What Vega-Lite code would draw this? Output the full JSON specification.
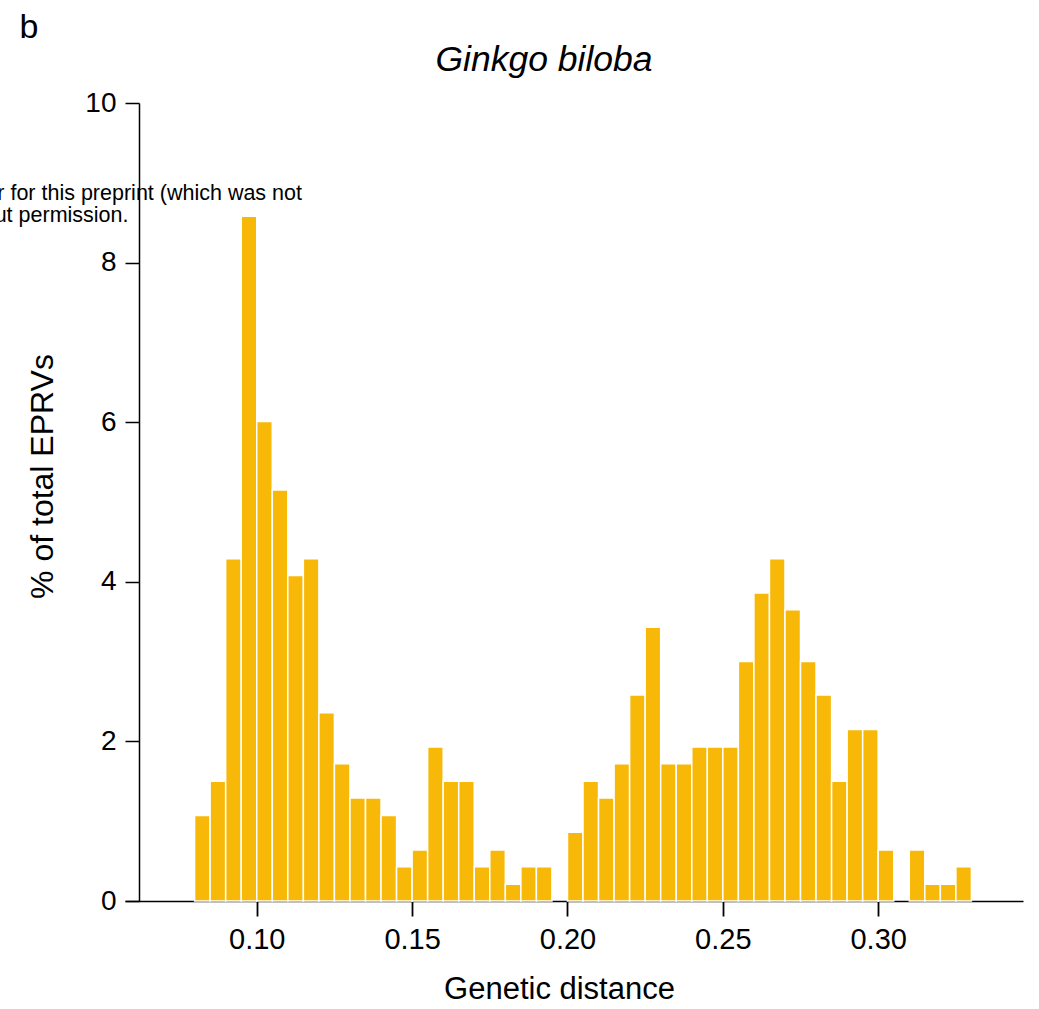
{
  "$schema": "https://vega.github.io/schema/vega-lite/v6.json",
  "width": 898,
  "height": 798,
  "autosize": {"type": "none"},
  "padding": {"left": 125, "top": 103, "right": 16, "bottom": 108},
  "background": "white",
  "config": {"view": {"stroke": null}, "font": "Liberation Sans"},
  "title": {
    "text": "Ginkgo biloba",
    "font": "Liberation Sans",
    "fontStyle": "italic",
    "fontWeight": "normal",
    "fontSize": 35.5,
    "color": "#000",
    "anchor": "middle",
    "frame": "group",
    "baseline": "alphabetic",
    "dx": -30,
    "offset": -95
  },
  "data": {
    "values": [
      {"bin_start": 0.080, "bin_end": 0.085, "percent": 1.07},
      {"bin_start": 0.085, "bin_end": 0.090, "percent": 1.50},
      {"bin_start": 0.090, "bin_end": 0.095, "percent": 4.29},
      {"bin_start": 0.095, "bin_end": 0.100, "percent": 8.58},
      {"bin_start": 0.100, "bin_end": 0.105, "percent": 6.01},
      {"bin_start": 0.105, "bin_end": 0.110, "percent": 5.15},
      {"bin_start": 0.110, "bin_end": 0.115, "percent": 4.08},
      {"bin_start": 0.115, "bin_end": 0.120, "percent": 4.29},
      {"bin_start": 0.120, "bin_end": 0.125, "percent": 2.36},
      {"bin_start": 0.125, "bin_end": 0.130, "percent": 1.72},
      {"bin_start": 0.130, "bin_end": 0.135, "percent": 1.29},
      {"bin_start": 0.135, "bin_end": 0.140, "percent": 1.29},
      {"bin_start": 0.140, "bin_end": 0.145, "percent": 1.07},
      {"bin_start": 0.145, "bin_end": 0.150, "percent": 0.43},
      {"bin_start": 0.150, "bin_end": 0.155, "percent": 0.64},
      {"bin_start": 0.155, "bin_end": 0.160, "percent": 1.93},
      {"bin_start": 0.160, "bin_end": 0.165, "percent": 1.50},
      {"bin_start": 0.165, "bin_end": 0.170, "percent": 1.50},
      {"bin_start": 0.170, "bin_end": 0.175, "percent": 0.43},
      {"bin_start": 0.175, "bin_end": 0.180, "percent": 0.64},
      {"bin_start": 0.180, "bin_end": 0.185, "percent": 0.21},
      {"bin_start": 0.185, "bin_end": 0.190, "percent": 0.43},
      {"bin_start": 0.190, "bin_end": 0.195, "percent": 0.43},
      {"bin_start": 0.200, "bin_end": 0.205, "percent": 0.86},
      {"bin_start": 0.205, "bin_end": 0.210, "percent": 1.50},
      {"bin_start": 0.210, "bin_end": 0.215, "percent": 1.29},
      {"bin_start": 0.215, "bin_end": 0.220, "percent": 1.72},
      {"bin_start": 0.220, "bin_end": 0.225, "percent": 2.58},
      {"bin_start": 0.225, "bin_end": 0.230, "percent": 3.43},
      {"bin_start": 0.230, "bin_end": 0.235, "percent": 1.72},
      {"bin_start": 0.235, "bin_end": 0.240, "percent": 1.72},
      {"bin_start": 0.240, "bin_end": 0.245, "percent": 1.93},
      {"bin_start": 0.245, "bin_end": 0.250, "percent": 1.93},
      {"bin_start": 0.250, "bin_end": 0.255, "percent": 1.93},
      {"bin_start": 0.255, "bin_end": 0.260, "percent": 3.00},
      {"bin_start": 0.260, "bin_end": 0.265, "percent": 3.86},
      {"bin_start": 0.265, "bin_end": 0.270, "percent": 4.29},
      {"bin_start": 0.270, "bin_end": 0.275, "percent": 3.65},
      {"bin_start": 0.275, "bin_end": 0.280, "percent": 3.00},
      {"bin_start": 0.280, "bin_end": 0.285, "percent": 2.58},
      {"bin_start": 0.285, "bin_end": 0.290, "percent": 1.50},
      {"bin_start": 0.290, "bin_end": 0.295, "percent": 2.15},
      {"bin_start": 0.295, "bin_end": 0.300, "percent": 2.15},
      {"bin_start": 0.300, "bin_end": 0.305, "percent": 0.64},
      {"bin_start": 0.310, "bin_end": 0.315, "percent": 0.64},
      {"bin_start": 0.315, "bin_end": 0.320, "percent": 0.21},
      {"bin_start": 0.320, "bin_end": 0.325, "percent": 0.21},
      {"bin_start": 0.325, "bin_end": 0.330, "percent": 0.43}
    ]
  },
  "layer": [
    {
      "mark": {"type": "bar", "fill": "#F8B808", "stroke": "white", "strokeWidth": 1.5},
      "encoding": {
        "x": {
          "field": "bin_start",
          "type": "quantitative",
          "scale": {"domain": [0.0576, 0.3466], "nice": false, "zero": false},
          "axis": {
            "title": "Genetic distance",
            "values": [0.1, 0.15, 0.2, 0.25, 0.3],
            "format": ".2f",
            "grid": false,
            "labelFont": "Liberation Sans",
            "labelFontSize": 29,
            "labelColor": "#000",
            "labelPadding": 9,
            "tickSize": 15,
            "tickWidth": 1.8,
            "tickColor": "#000",
            "domainColor": "#000",
            "domainWidth": 1.5,
            "titleFont": "Liberation Sans",
            "titleFontSize": 31,
            "titleFontWeight": "normal",
            "titleColor": "#000",
            "titleBaseline": "alphabetic",
            "titleAnchor": "middle",
            "titleX": 434,
            "titleY": 97
          }
        },
        "x2": {"field": "bin_end"},
        "y": {
          "field": "percent",
          "type": "quantitative",
          "scale": {"domain": [0, 10], "nice": false},
          "axis": {
            "title": "% of total EPRVs",
            "values": [0, 2, 4, 6, 8, 10],
            "format": "d",
            "grid": false,
            "offset": -14,
            "labelFont": "Liberation Sans",
            "labelFontSize": 28,
            "labelColor": "#000",
            "labelPadding": 9,
            "tickSize": 14,
            "tickWidth": 1.5,
            "tickColor": "#000",
            "domainColor": "#000",
            "domainWidth": 1.5,
            "titleFont": "Liberation Sans",
            "titleFontSize": 32,
            "titleFontWeight": "normal",
            "titleColor": "#000",
            "titleBaseline": "alphabetic",
            "titleX": -87,
            "titleY": 373
          }
        },
        "y2": {"datum": 0}
      }
    },
    {
      "data": {"values": [{"t": "b"}]},
      "mark": {"type": "text", "font": "Liberation Sans", "fontSize": 34, "align": "left", "baseline": "alphabetic", "color": "#000"},
      "encoding": {
        "x": {"datum": 0.02365, "type": "quantitative"},
        "y": {"datum": 10.81, "type": "quantitative"},
        "text": {"field": "t"}
      }
    },
    {
      "data": {"values": [{"t": "r for this preprint (which was not"}]},
      "mark": {"type": "text", "font": "Liberation Sans", "fontSize": 21.5, "align": "right", "baseline": "alphabetic", "color": "#000"},
      "encoding": {
        "x": {"datum": 0.11456, "type": "quantitative"},
        "y": {"datum": 8.784, "type": "quantitative"},
        "text": {"field": "t"}
      }
    },
    {
      "data": {"values": [{"t": "ut permission."}]},
      "mark": {"type": "text", "font": "Liberation Sans", "fontSize": 21.5, "align": "right", "baseline": "alphabetic", "color": "#000"},
      "encoding": {
        "x": {"datum": 0.05873, "type": "quantitative"},
        "y": {"datum": 8.513, "type": "quantitative"},
        "text": {"field": "t"}
      }
    }
  ]
}
